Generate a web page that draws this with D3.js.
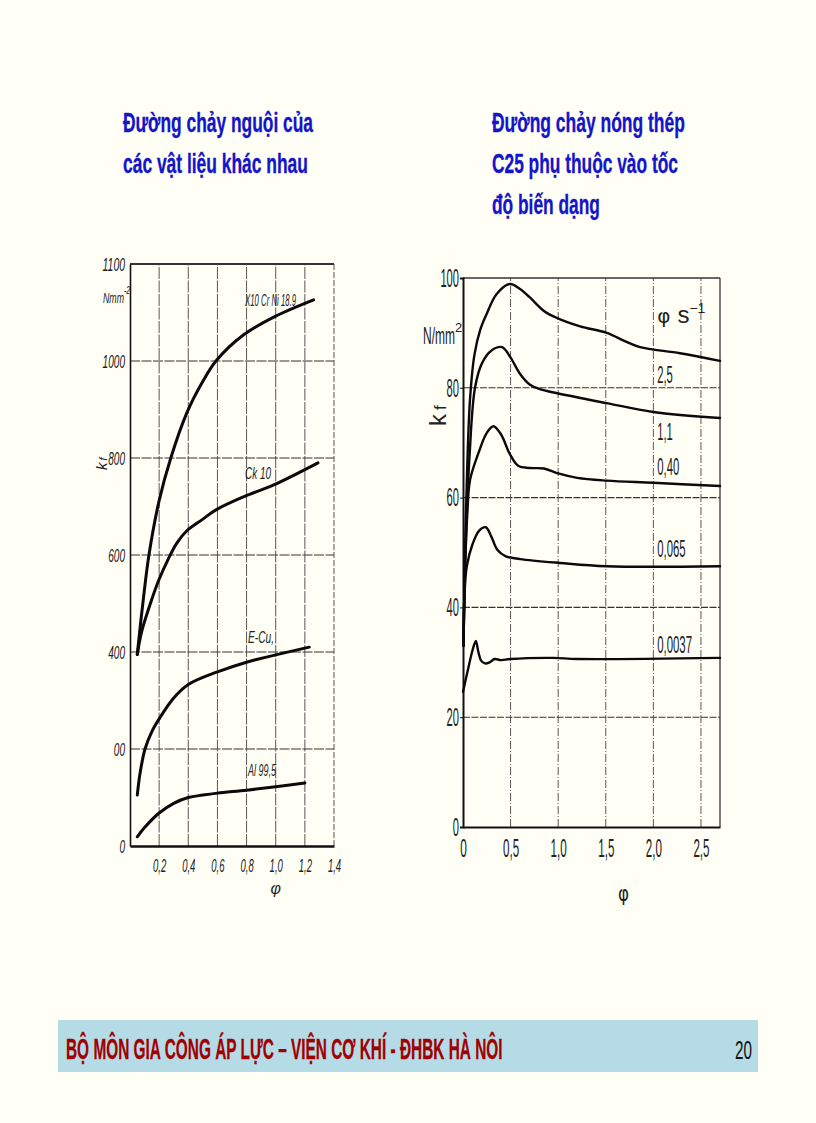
<!DOCTYPE html>
<html><head><meta charset="utf-8">
<script src="https://cdn.jsdelivr.net/npm/d3@7"></script>
<style>
html,body{margin:0;padding:0;background:#fffff6;}
svg{display:block;}
</style></head><body>
<svg id="c" width="816" height="1123"></svg>
<script>
// ---------- DATA ----------
const titleLeft = ["Đường chảy nguội của", "các vật liệu khác nhau"];
const titleRight = ["Đường chảy nóng thép", "C25 phụ thuộc vào tốc", "độ biến dạng"];
const footerText = "BỘ MÔN GIA CÔNG ÁP LỰC – VIỆN CƠ KHÍ - ĐHBK HÀ NÔI";
const pageNumber = "20";

// Left chart: cold flow curves (phi, kf N/mm2)
const leftYTicks = [0, 200, 400, 600, 800, 1000, 1200];
const leftYLabels = ["0", "00", "400", "600", "800", "1000", "1100"];
const leftXTicks = [0.2, 0.4, 0.6, 0.8, 1.0, 1.2, 1.4];
const leftXLabels = ["0,2", "0,4", "0,6", "0,8", "1,0", "1,2", "1,4"];
const leftNames = ["X10 Cr Ni 18.9", "Ck 10", "E-Cu,", "Al 99,5"];
const leftLabelAt = [[0.79, 1113], [0.79, 756], [0.81, 419], [0.81, 144]];
const sX10 = [[0.05,395],[0.07,452],[0.09,505],[0.13,600],[0.2,712],[0.28,800],[0.39,893],[0.5,958],[0.59,1000],[0.78,1054],[0.99,1091],[1.26,1126]];
const sCk10 = [[0.05,395],[0.08,442],[0.15,509],[0.2,550],[0.26,590],[0.32,624],[0.39,650],[0.5,674],[0.59,693],[0.78,720],[0.99,745],[1.29,790]];
const sECu = [[0.05,105],[0.069,150],[0.103,200],[0.15,236],[0.2,262],[0.3,305],[0.4,333],[0.6,359],[0.8,379],[1.0,394],[1.23,410]];
const sAl = [[0.05,19],[0.1,38],[0.2,68],[0.3,88],[0.4,100],[0.5,105],[0.6,109],[0.8,115],[1.0,122],[1.2,130]];
const leftSeries = [sX10, sCk10, sECu, sAl];

// Right chart: hot flow curves of C25 at strain rates
const rightYTicks = [0, 20, 40, 60, 80, 100];
const rightYLabels = ["0", "20", "40", "60", "80", "100"];
const rightXTicks = [0, 0.5, 1.0, 1.5, 2.0, 2.5];
const rightXLabels = ["0", "0,5", "1,0", "1,5", "2,0", "2,5"];
const rateNames = ["2,5", "1,1", "0,40", "0,065", "0,0037"];
const rateLabelAt = [[2.04, 80.9], [2.04, 70.5], [2.04, 64.1], [2.04, 49.2], [2.04, 31.7]];
const r25 = [[0.005,33],[0.02,49],[0.045,66],[0.074,78],[0.12,86],[0.18,90.5],[0.25,93.5],[0.35,97],[0.49,98.9],[0.6,98],[0.7,96.5],[0.85,94],[0.99,92.7],[1.23,91.2],[1.51,90],[1.7,88.5],[1.86,87.4],[2.28,86.3],[2.7,84.9]];
const r11 = [[0.005,33],[0.03,52],[0.07,68],[0.126,80],[0.2,84.5],[0.3,86.8],[0.41,87.4],[0.5,85.5],[0.6,82.5],[0.7,80.6],[0.8,79.8],[0.99,79],[1.51,77.2],[2.0,75.6],[2.7,74.5]];
const r040 = [[0.005,33],[0.02,46],[0.045,57],[0.074,63.2],[0.16,68],[0.25,71.8],[0.32,73],[0.4,71.5],[0.49,68],[0.58,65.8],[0.7,65.4],[0.85,65.3],[1.0,64.4],[1.2,63.6],[1.51,63.1],[2.0,62.7],[2.7,62.1]];
const r0065 = [[0.005,33],[0.015,42],[0.04,47.5],[0.1,51.5],[0.17,54],[0.24,54.6],[0.3,52.8],[0.36,50.5],[0.45,49.3],[0.6,48.8],[1.02,48.1],[1.51,47.5],[2.7,47.5]];
const r00037 = [[0,24.6],[0.05,28.5],[0.1,32.2],[0.135,33.9],[0.16,32],[0.19,30.3],[0.23,29.8],[0.28,30],[0.33,30.6],[0.4,30.4],[0.5,30.6],[0.95,30.8],[1.2,30.6],[2.7,30.8]];
const rightSeries = [r25, r11, r040, r0065, r00037];

// ---------- DRAW ----------
const svg = d3.select("#c");
svg.append("rect").attr("width", 816).attr("height", 1123).attr("fill", "#fffff6");

const NARROW = "'Liberation Sans Narrow','Arial Narrow','Liberation Sans',sans-serif";

// horizontally squeeze a text to a target width (transform, so its box is true)
function squeeze(sel, target) {
  sel.each(function (d, i) {
    const el = this;
    const w0 = el.getComputedTextLength();
    const t = typeof target === "function" ? target.call(el, d, i) : target;
    const s = w0 > 0 ? t / w0 : 1;
    const x = +el.getAttribute("x") || 0, y = +el.getAttribute("y") || 0;
    el.setAttribute("transform", `translate(${x},${y}) scale(${s},1)`);
    el.setAttribute("x", 0); el.setAttribute("y", 0);
  });
}
function perChar(k) {
  return function () {
    const t = d3.select(this).text();
    const n = t.replace(/[,.]/g, "").length + t.replace(/[^,.]/g, "").length * 0.45;
    return n * k;
  };
}

// Titles
const titleW = [[190, 185], [193, 186, 108]];
[[titleLeft, 123], [titleRight, 492]].forEach(([lines, x], k) => {
  lines.forEach((s, i) => {
    svg.append("text").attr("x", x).attr("y", 132 + i * 41)
      .attr("font-family", NARROW).attr("font-weight", "bold").attr("font-size", 28)
      .attr("fill", "#1414c8").attr("stroke", "#1414c8").attr("stroke-width", 0.35)
      .text(s).call(squeeze, titleW[k][i]);
  });
});

// ---- Left chart ----
const xL = d3.scaleLinear().domain([0, 1.4]).range([130, 334]);
const yL = d3.scaleLinear().domain([0, 1200]).range([846, 264]);
const gL = svg.append("g");

gL.append("g").selectAll("line").data(leftYTicks.slice(1)).join("line")
  .attr("x1", xL(0)).attr("x2", xL(1.4)).attr("y1", d => yL(d)).attr("y2", d => yL(d))
  .attr("stroke", "#333").attr("stroke-width", d => d === 1200 ? 1.8 : 1)
  .attr("stroke-dasharray", d => d === 1200 ? null : "10,1.5");
gL.append("g").selectAll("line").data(leftXTicks).join("line")
  .attr("x1", d => xL(d)).attr("x2", d => xL(d)).attr("y1", yL(0)).attr("y2", yL(1200))
  .attr("stroke", "#444").attr("stroke-width", 0.9)
  .attr("stroke-dasharray", d => d === 1.4 ? "6,2" : "12,1.5");

const axLy = d3.axisLeft(yL).tickValues(leftYTicks).tickFormat((d, i) => leftYLabels[i]).tickSize(0).tickPadding(5);
const gAy = gL.append("g").attr("transform", `translate(${xL(0)},0)`).call(axLy);
gAy.select(".domain").attr("stroke", "#111").attr("stroke-width", 1.6);
gAy.selectAll("text").attr("font-family", NARROW).attr("font-style", "italic").attr("font-size", 19).attr("fill", "#222").call(squeeze, perChar(5.6));

const axLx = d3.axisBottom(xL).tickValues(leftXTicks).tickFormat((d, i) => leftXLabels[i]).tickSize(0).tickPadding(13);
const gAx = gL.append("g").attr("transform", `translate(0,${yL(0)})`).call(axLx);
gAx.select(".domain").attr("stroke", "#111").attr("stroke-width", 2.4);
gAx.selectAll("text").attr("font-family", NARROW).attr("font-style", "italic").attr("font-size", 18).attr("fill", "#222").call(squeeze, perChar(5.4));

gL.append("text").attr("x", 103).attr("y", 303).attr("font-family", NARROW).attr("font-style", "italic")
  .attr("font-size", 15).attr("fill", "#222").text("Nmm").call(squeeze, 21);
gL.append("text").attr("x", 124).attr("y", 294).attr("font-family", NARROW).attr("font-style", "italic")
  .attr("font-size", 11).attr("fill", "#222").text("-2").call(squeeze, 6);
gL.append("text").attr("transform", "translate(107,470) rotate(-90)").attr("font-family", NARROW).attr("font-style", "italic")
  .attr("font-size", 15).attr("fill", "#222").text("k").append("tspan").attr("font-size", 11).attr("dx", 2).text("f");
gL.append("text").attr("x", xL(1.0)).attr("y", 894).attr("text-anchor", "middle").attr("font-family", NARROW)
  .attr("font-style", "italic").attr("font-size", 16).attr("fill", "#222").text("φ");

const lineL = d3.line().x(d => xL(d[0])).y(d => yL(d[1])).curve(d3.curveCatmullRom.alpha(0.5));
gL.append("g").selectAll("path").data(leftSeries).join("path")
  .attr("d", lineL).attr("fill", "none").attr("stroke", "#0a0a0a").attr("stroke-width", 3).attr("stroke-linecap", "round");

const leftW = [51, 26, 26, 28];
gL.append("g").selectAll("text").data(leftNames).join("text")
  .attr("x", (d, i) => xL(leftLabelAt[i][0])).attr("y", (d, i) => yL(leftLabelAt[i][1]))
  .attr("font-family", NARROW).attr("font-style", "italic").attr("font-size", 16).attr("fill", "#222")
  .text(d => d).call(squeeze, (d, i) => leftW[i]);

// ---- Right chart ----
const xR = d3.scaleLinear().domain([0, 2.7]).range([463, 720]);
const yR = d3.scaleLinear().domain([0, 100]).range([827, 278]);
const gR = svg.append("g");

gR.append("g").selectAll("line").data([20, 40, 60, 80, 100]).join("line")
  .attr("x1", xR(0)).attr("x2", xR(2.7)).attr("y1", d => yR(d)).attr("y2", d => yR(d))
  .attr("stroke", "#333").attr("stroke-width", d => d === 100 ? 1.4 : 1.1)
  .attr("stroke-dasharray", d => d === 100 ? null : "7,1.5");
gR.append("g").selectAll("line").data([0.5, 1.0, 1.5, 2.0, 2.5, 2.7]).join("line")
  .attr("x1", d => xR(d)).attr("x2", d => xR(d)).attr("y1", yR(0)).attr("y2", yR(100))
  .attr("stroke", "#444").attr("stroke-width", d => d === 2.7 ? 1.4 : 0.9)
  .attr("stroke-dasharray", d => d === 2.7 ? null : "8,2,1,2");

const axRy = d3.axisLeft(yR).tickValues(rightYTicks).tickFormat((d, i) => rightYLabels[i]).tickSize(3).tickPadding(1);
const gBy = gR.append("g").attr("transform", `translate(${xR(0)},0)`).call(axRy);
gBy.select(".domain").attr("stroke", "#111").attr("stroke-width", 2);
gBy.selectAll(".tick line").attr("stroke", "#111");
gBy.selectAll("text").attr("font-family", NARROW).attr("font-size", 26).attr("fill", "#222").call(squeeze, perChar(6.2));

const axRx = d3.axisBottom(xR).tickValues(rightXTicks).tickFormat((d, i) => rightXLabels[i]).tickSize(0).tickPadding(12);
const gBx = gR.append("g").attr("transform", `translate(0,${yR(0)})`).call(axRx);
gBx.select(".domain").attr("stroke", "#111").attr("stroke-width", 2.2);
gBx.selectAll("text").attr("font-family", NARROW).attr("font-size", 26).attr("fill", "#222").call(squeeze, perChar(6.6));

gR.append("text").attr("x", 423).attr("y", 344).attr("font-family", NARROW).attr("font-size", 23).attr("fill", "#222")
  .text("N/mm").call(squeeze, 32);
gR.append("text").attr("x", 455).attr("y", 332).attr("font-family", NARROW).attr("font-size", 13).attr("fill", "#222").text("2");
gR.append("text").attr("transform", "translate(446,426) rotate(-90)").attr("font-family", NARROW)
  .attr("font-size", 24).attr("fill", "#222").text("k").append("tspan").attr("font-size", 17).attr("dx", 4).text("f");
gR.append("text").attr("x", 618).attr("y", 901).attr("font-family", "'DejaVu Sans',sans-serif")
  .attr("font-size", 22).attr("fill", "#222").text("φ").call(squeeze, 11);

const lineR = d3.line().x(d => xR(d[0])).y(d => yR(d[1])).curve(d3.curveCatmullRom.alpha(0.5));
gR.append("g").selectAll("path").data(rightSeries).join("path")
  .attr("d", lineR).attr("fill", "none").attr("stroke", "#0a0a0a").attr("stroke-width", 2.4).attr("stroke-linecap", "round");

const hdr = gR.append("text").attr("x", xR(2.04)).attr("y", yR(91.8)).attr("font-family", NARROW).attr("font-size", 24).attr("fill", "#222");
hdr.append("tspan").attr("font-family", "'DejaVu Sans',sans-serif").attr("font-size", 20).text("φ");
hdr.append("tspan").attr("dx", 7).text("s");
hdr.append("tspan").attr("dy", -10).attr("font-size", 14).text("−1");

gR.append("g").selectAll("text").data(rateNames).join("text")
  .attr("x", (d, i) => xR(rateLabelAt[i][0])).attr("y", (d, i) => yR(rateLabelAt[i][1]))
  .attr("font-family", NARROW).attr("font-size", 24).attr("fill", "#222").text(d => d).call(squeeze, perChar(6.4));

// ---- Footer ----
svg.append("rect").attr("x", 58).attr("y", 1020).attr("width", 700).attr("height", 52).attr("fill", "#b5dbe6");
svg.append("text").attr("x", 66).attr("y", 1059).attr("font-family", NARROW).attr("font-weight", "bold")
  .attr("font-size", 30).attr("fill", "#a00000").attr("stroke", "#a00000").attr("stroke-width", 0.3)
  .text(footerText).call(squeeze, 437);
svg.append("text").attr("x", 735).attr("y", 1059).attr("font-family", NARROW)
  .attr("font-size", 25).attr("fill", "#111").text(pageNumber).call(squeeze, 17);
</script>
</body></html>
